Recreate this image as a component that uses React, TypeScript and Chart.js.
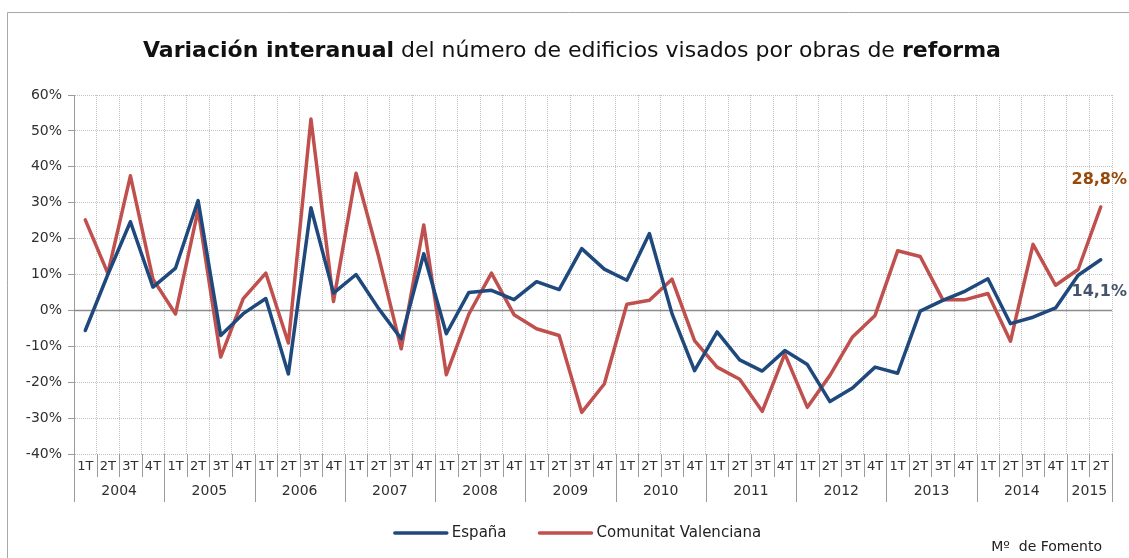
import React, { useEffect, useRef } from 'react';
import { Chart, registerables } from 'chart.js';

Chart.register(...registerables);

const years = ['2004', '2005', '2006', '2007', '2008', '2009', '2010', '2011', '2012', '2013', '2014', '2015'];
const quartersPerYear = [4, 4, 4, 4, 4, 4, 4, 4, 4, 4, 4, 2];
const quarterNames = ['1T', '2T', '3T', '4T'];
const categories = years.flatMap((y, i) => quarterNames.slice(0, quartersPerYear[i]).map((q) => `${q} ${y}`));

const espana = [
  -5.6, 10.0, 24.7, 6.5, 11.8, 30.6, -7.0, -0.9, 3.3, -17.7, 28.6, 4.8,
  10.0, 0.5, -7.9, 15.8, -6.5, 5.0, 5.6, 3.0, 8.0, 5.8, 17.2, 11.5,
  8.4, 21.4, -0.9, -16.8, -6.0, -13.8, -16.9, -11.2, -15.1, -25.4, -21.6, -15.8,
  -17.5, -0.2, 2.8, 5.4, 8.8, -3.7, -1.9, 0.7, 9.8, 14.1,
];
const valenciana = [
  25.2, 10.3, 37.5, 8.7, -1.0, 28.0, -13.0, 3.3, 10.4, -9.1, 53.3, 2.5,
  38.2, 15.0, -10.7, 23.8, -17.9, -1.0, 10.4, -1.2, -5.1, -7.0, -28.4, -20.5,
  1.7, 2.8, 8.7, -8.4, -15.8, -19.2, -28.1, -12.1, -27.0, -18.1, -7.4, -1.4,
  16.6, 15.0, 3.0, 3.0, 4.7, -8.6, 18.4, 7.0, 11.4, 28.8,
];
const lastLabels = ['14,1%', '28,8%'];
const yTicksMin = -40;
const yTicksMax = 60;

const titleParts = [
  { text: 'Variación interanual', bold: true },
  { text: ' del número de edificios visados por obras de ', bold: false },
  { text: 'reforma', bold: true },
];
const sourceText = 'Mº  de Fomento';

const FONT = '"DejaVu Sans", "Liberation Sans", sans-serif';
const BLUE = '#1F497D';
const RED = '#C0504D';

const overlay = {
  id: 'overlay',
  beforeDraw(chart: any) {
    const ctx = chart.ctx;
    ctx.save();
    ctx.fillStyle = '#ffffff';
    ctx.fillRect(0, 0, chart.width, chart.height);
    ctx.strokeStyle = '#a8a8a8';
    ctx.lineWidth = 1;
    ctx.beginPath();
    ctx.moveTo(7.5, chart.height);
    ctx.lineTo(7.5, 12.5);
    ctx.lineTo(chart.width, 12.5);
    ctx.stroke();
    ctx.restore();
  },
  beforeDatasetsDraw(chart: any) {
    const ctx = chart.ctx;
    const ys = chart.scales.y;
    const area = chart.chartArea;
    const y0 = Math.round(ys.getPixelForValue(0)) + 0.5;
    ctx.save();
    ctx.strokeStyle = '#8c8c8c';
    ctx.lineWidth = 1.3;
    ctx.beginPath();
    ctx.moveTo(area.left, y0);
    ctx.lineTo(area.right, y0);
    ctx.stroke();
    ctx.restore();
  },
  afterDraw(chart: any) {
    const ctx = chart.ctx;
    const xs = chart.scales.x;
    const area = chart.chartArea;
    ctx.save();

    // Title with mixed weights, fitted to target width
    const targetW = 862;
    const base = 20;
    const fontFor = (b: boolean, s: number) => `${b ? 'bold ' : ''}${s}px ${FONT}`;
    let w = 0;
    titleParts.forEach((p) => { ctx.font = fontFor(p.bold, base); w += ctx.measureText(p.text).width; });
    const size = Math.min(22, base * targetW / w);
    let total = 0;
    titleParts.forEach((p) => { ctx.font = fontFor(p.bold, size); total += ctx.measureText(p.text).width; });
    let tx = 572 - total / 2;
    ctx.fillStyle = '#111111';
    ctx.textBaseline = 'alphabetic';
    ctx.textAlign = 'left';
    titleParts.forEach((p) => {
      ctx.font = fontFor(p.bold, size);
      ctx.fillText(p.text, tx, 57);
      tx += ctx.measureText(p.text).width;
    });

    // Two-level category axis
    const n = categories.length;
    const cw = xs.width / n;
    const bottom = area.bottom;
    ctx.strokeStyle = '#9a9a9a';
    ctx.lineWidth = 1;
    const yearStarts: number[] = [];
    let acc = 0;
    quartersPerYear.forEach((q) => { yearStarts.push(acc); acc += q; });
    yearStarts.push(acc);
    for (let i = 0; i <= n; i++) {
      const x = Math.round(xs.left + i * cw) + 0.5;
      const isYear = yearStarts.includes(i);
      ctx.beginPath();
      ctx.moveTo(x, bottom);
      ctx.lineTo(x, bottom + (isYear ? 48 : 23));
      ctx.stroke();
    }
    ctx.fillStyle = '#303030';
    ctx.textAlign = 'center';
    ctx.textBaseline = 'middle';
    ctx.font = `13px ${FONT}`;
    categories.forEach((c, i) => {
      const x = xs.getPixelForValue(i);
      ctx.fillText(c.split(' ')[0], x, bottom + 13);
    });
    ctx.font = `14px ${FONT}`;
    years.forEach((y, i) => {
      const a = xs.getPixelForValue(yearStarts[i]);
      const b = xs.getPixelForValue(yearStarts[i + 1] - 1);
      ctx.fillText(y, (a + b) / 2, bottom + 37);
    });

    // Data labels on last points
    const labelColors = ['#44546A', '#984807'];
    const labelOffsets = [32, -27];
    chart.data.datasets.forEach((ds: any, di: number) => {
      const meta = chart.getDatasetMeta(di);
      const pt = meta.data[meta.data.length - 1];
      ctx.font = `bold 16px ${FONT}`;
      ctx.fillStyle = labelColors[di];
      ctx.textAlign = 'center';
      ctx.textBaseline = 'middle';
      ctx.fillText(lastLabels[di], Math.min(pt.x, chart.width - ctx.measureText(lastLabels[di]).width / 2 - 2), pt.y + labelOffsets[di]);
    });

    // Legend
    ctx.font = `15px ${FONT}`;
    const lineLen = 54;
    const gapText = 4;
    const gapItems = 32;
    const items = chart.data.datasets.map((ds: any) => ({ label: ds.label, color: ds.borderColor, w: ctx.measureText(ds.label).width }));
    const legendW = items.reduce((s: number, it: any) => s + lineLen + gapText + it.w, 0) + gapItems * (items.length - 1);
    let lx = 577.5 - legendW / 2;
    const ly = 533;
    items.forEach((it: any) => {
      ctx.strokeStyle = it.color;
      ctx.lineWidth = 3.5;
      ctx.lineCap = 'round';
      ctx.beginPath();
      ctx.moveTo(lx + 1, ly);
      ctx.lineTo(lx + lineLen - 1, ly);
      ctx.stroke();
      ctx.fillStyle = '#222222';
      ctx.textAlign = 'left';
      ctx.textBaseline = 'middle';
      ctx.fillText(it.label, lx + lineLen + gapText, ly);
      lx += lineLen + gapText + it.w + gapItems;
    });

    // Source
    ctx.font = `14px ${FONT}`;
    ctx.fillStyle = '#222222';
    ctx.textAlign = 'right';
    ctx.textBaseline = 'middle';
    ctx.fillText(sourceText, 1102, 547);

    ctx.restore();
  },
};

export default function App() {
  const ref = useRef<HTMLCanvasElement>(null);
  useEffect(() => {
    if (!ref.current) return;
    const chart = new Chart(ref.current, {
      type: 'line',
      data: {
        labels: categories,
        datasets: [
          {
            label: 'España',
            data: espana,
            borderColor: BLUE,
            backgroundColor: BLUE,
            borderWidth: 3.5,
            pointRadius: 0,
            tension: 0,
            borderJoinStyle: 'round',
            borderCapStyle: 'round',
          },
          {
            label: 'Comunitat Valenciana',
            data: valenciana,
            borderColor: RED,
            backgroundColor: RED,
            borderWidth: 3.5,
            pointRadius: 0,
            tension: 0,
            borderJoinStyle: 'round',
            borderCapStyle: 'round',
          },
        ],
      },
      options: {
        responsive: false,
        animation: false,
        devicePixelRatio: 1,
        layout: { padding: { top: 95, right: 17, bottom: 0, left: 0 } },
        plugins: {
          legend: { display: false },
          title: { display: false },
          tooltip: { enabled: false },
        },
        scales: {
          x: {
            type: 'category',
            offset: true,
            grid: { offset: true, color: '#c2c2c2', lineWidth: 1, drawTicks: false },
            border: { display: false, dash: [1, 1] },
            ticks: { display: false },
            afterFit(s: any) { s.height = 104; },
          },
          y: {
            min: yTicksMin,
            max: yTicksMax,
            ticks: {
              stepSize: 10,
              color: '#303030',
              font: { family: FONT, size: 14 },
              padding: 6,
              callback: (v: any) => `${v}%`,
            },
            grid: { color: '#c2c2c2', lineWidth: 1, drawTicks: true, tickLength: 6, tickColor: '#9a9a9a' },
            border: { display: true, color: '#9a9a9a', width: 1, dash: [1, 1] },
            afterFit(s: any) { s.width = 74; },
          },
        },
      },
      plugins: [overlay],
    } as any);
    return () => chart.destroy();
  }, []);
  return (
    <div style={{ position: 'absolute', left: 0, top: 0, width: 1129, height: 558, background: '#fff' }}>
      <canvas ref={ref} width={1129} height={558} style={{ display: 'block' }} />
    </div>
  );
}
